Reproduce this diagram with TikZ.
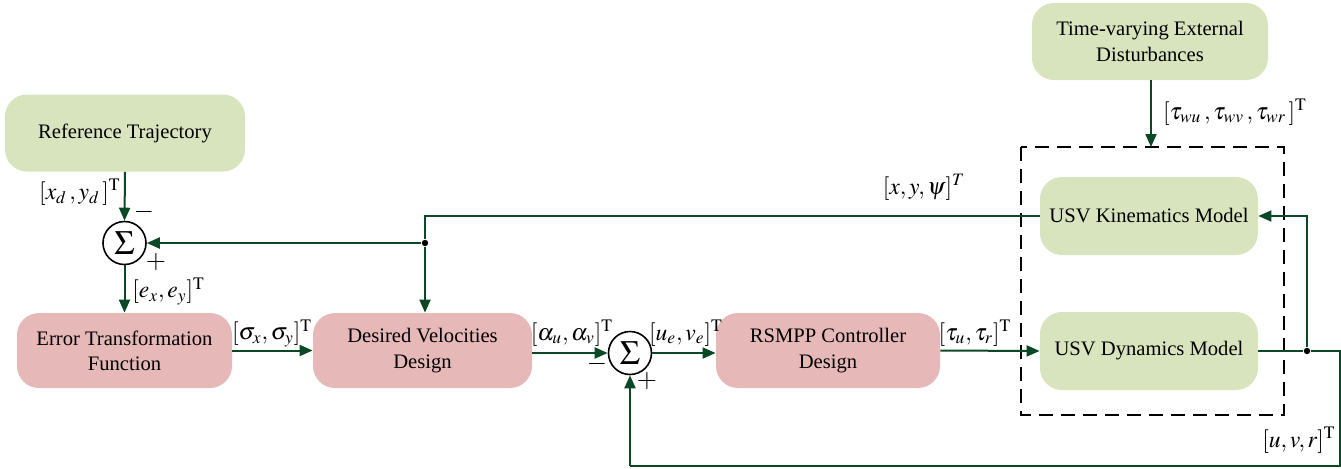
\documentclass[tikz,border=0pt]{standalone}
\usepackage{mathptmx}
\usepackage[no-math]{fontspec}
\setmainfont{Liberation Serif}
\newfontfamily\blockfont{Liberation Serif}
\usetikzlibrary{arrows.meta,calc}

\definecolor{boxgreen}{RGB}{215,228,189}
\definecolor{boxpink}{RGB}{230,185,184}
\definecolor{wire}{RGB}{10,72,38}

\tikzset{
  block/.style={rounded corners=11pt, draw=none, align=center,
    font=\blockfont\fontsize{10.3}{12.6}\selectfont, inner sep=1pt},
  gblock/.style={block, fill=boxgreen},
  pblock/.style={block, fill=boxpink},
  sumnode/.style={circle, draw=black, line width=0.8pt, fill=white,
    minimum size=21.5pt, inner sep=0pt, font=\fontsize{17}{17}\selectfont},
  sig/.style={line width=1pt, draw=wire},
  sigarrow/.style={sig, -{Triangle[length=6.5pt,width=5.5pt]}},
  lbl/.style={font=\fontsize{11.8}{13}\selectfont, inner sep=0pt},
  sgn/.style={font=\fontsize{13}{13}\selectfont, inner sep=0pt},
  junction/.style={circle, fill=black, minimum size=3.2pt, inner sep=0pt},
}

\begin{document}
\begin{tikzpicture}[x=0.5pt,y=-0.5pt]
\useasboundingbox (0,0) rectangle (1341,468);

% blocks
\node[gblock, minimum width=120pt, minimum height=38.5pt] (ref) at (125,133) {Reference Trajectory};
\node[gblock, minimum width=118pt, minimum height=38.5pt] (dist) at (1150,41.5) {Time-varying External\\Disturbances};
\node[gblock, minimum width=109pt, minimum height=39pt] (kin) at (1149,216) {USV Kinematics Model};
\node[gblock, minimum width=109pt, minimum height=39pt] (dyn) at (1149,351) {USV Dynamics Model};
\node[pblock, minimum width=107.5pt, minimum height=37.5pt] (err) at (124.5,350.5) {Error Transformation\\Function};
\node[pblock, minimum width=109.5pt, minimum height=37.5pt] (des) at (422.5,350.5) {Desired Velocities\\Design};
\node[pblock, minimum width=112pt, minimum height=37.5pt] (rsm) at (828,350.5) {RSMPP Controller\\Design};

% summing junctions
\node[sumnode] (s1) at (124.5,243) {$\Sigma$};
\node[sumnode] (s2) at (630,353) {$\Sigma$};

% dashed plant boundary
\draw[line width=1pt, dash pattern=on 7pt off 4pt] (1021,147) rectangle (1284,415);
\coordinate (plantTop) at (1151,147);

% forward path
\draw[sigarrow] (ref.south) -- (s1.north);
\draw[sigarrow] (s1.south) -- (err.north);
\draw[sigarrow] (err.east) -- (des.west);
\draw[sigarrow] (des.east |- s2.west) -- (s2.west);
\draw[sigarrow] (s2.east) -- (rsm.west |- s2.east);
\draw[sigarrow] (rsm.east) -- (dyn.west);
\draw[sigarrow] (dist.south -| plantTop) -- (plantTop);

% position feedback from the kinematics
\coordinate (k1) at (425,216);
\node[junction] (j1) at (425,243) {};
\draw[sig] (kin.west) -- (k1) -- (j1);
\draw[sigarrow] (j1) -- (des.north -| j1);
\draw[sigarrow] (j1) -- (s1.east);

% velocity feedback from the dynamics
\node[junction] (j2) at (1307,351) {};
\coordinate (d1) at (1340,351);
\coordinate (d2) at (1340,466);
\coordinate (d3) at (630,466);
\coordinate (k2) at (1307,216);
\draw[sig] (dyn.east) -- (j2) -- (d1) -- (d2) -- (d3);
\draw[sigarrow] (d3) -- (s2.south);
\draw[sigarrow] (j2) -- (k2) -- (kin.east);

% signal labels
\node[lbl, anchor=east] at (121,192) {$[x_d\,,y_d\,]^{\mathrm{T}}$};
\node[lbl, anchor=west] at (132,291) {$[e_x,e_y]^{\mathrm{T}}$};
\node[lbl] at (272,333) {$[\sigma_x,\sigma_y]^{\mathrm{T}}$};
\node[lbl] at (572,333) {$[\alpha_u,\alpha_v]^{\mathrm{T}}$};
\node[lbl] at (686,333) {$[u_e,v_e]^{\mathrm{T}}$};
\node[lbl] at (975,333) {$[\tau_u,\tau_r]^{\mathrm{T}}$};
\node[lbl] at (924,187) {$[x,y,\psi]^{T}$};
\node[lbl] at (1235,112) {$[\tau_{wu}\,,\tau_{wv}\,,\tau_{wr}\,]^{\mathrm{T}}$};
\node[lbl] at (1299,440) {$[u,v,r]^{\mathrm{T}}$};

% signs at the summing junctions
\node[sgn] at (144,212) {$-$};
\node[sgn] at (156,262) {$+$};
\node[sgn] at (597,364) {$-$};
\node[sgn] at (647,381) {$+$};
\end{tikzpicture}
\end{document}
